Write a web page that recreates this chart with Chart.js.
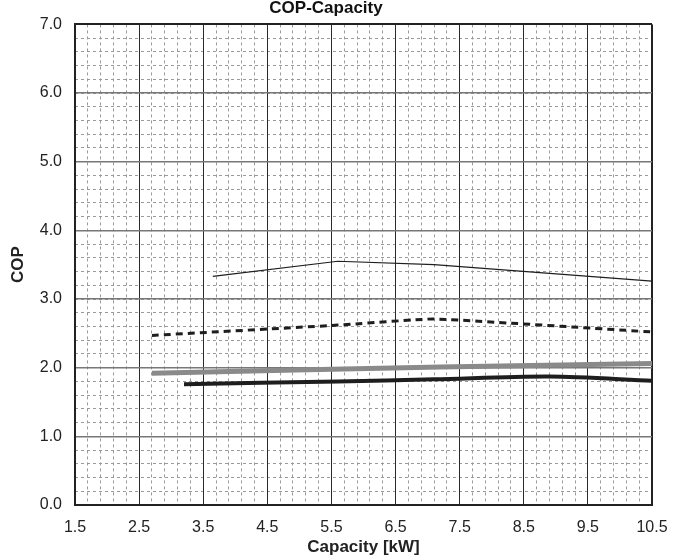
<!DOCTYPE html>
<html>
<head>
<meta charset="utf-8">
<script src="https://cdn.jsdelivr.net/npm/chart.js@4"></script>
<style>
  html, body { margin: 0; padding: 0; background: #fff; }
</style>
</head>
<body>
<canvas id="copChart" width="686" height="560"></canvas>
<script>
// valori
const capThin = [3.65, 5.6, 7.1, 10.5];
const copThin = [3.33, 3.55, 3.50, 3.26];
const capDash = [2.7, 5.6, 7.1, 10.5];
const copDash = [2.47, 2.62, 2.71, 2.52];
const capGray = [2.7, 7.2, 10.5];
const copGray = [1.92, 2.01, 2.06];
const capBold = [3.2, 5.6, 7.1, 8.9, 10.5];
const copBold = [1.76, 1.80, 1.83, 1.87, 1.81];

const xMin = 1.5, xMax = 10.5;
const yMin = 0, yMax = 7;

function pts(xs, ys) {
    return xs.map((x, i) => ({ x: x, y: ys[i] }));
}

const font = 'Arial, "Liberation Sans", sans-serif';

const ctx = document.getElementById('copChart').getContext('2d');
const copChart = new Chart(ctx, {
    type: 'line',
    data: {
        datasets: [{
            data: pts(capGray, copGray),
            borderColor: '#8a8a8a',
            borderWidth: 5,
            pointRadius: 0,
            tension: 0.3,
            fill: false
        },
        {
            data: pts(capBold, copBold),
            borderColor: '#1e1e1e',
            borderWidth: 4,
            pointRadius: 0,
            tension: 0.3,
            fill: false
        },
        {
            data: pts(capDash, copDash),
            borderColor: '#1e1e1e',
            borderWidth: 3,
            borderDash: [7, 5],
            pointRadius: 0,
            tension: 0.1,
            fill: false
        },
        {
            data: pts(capThin, copThin),
            borderColor: '#1e1e1e',
            borderWidth: 1.2,
            pointRadius: 0,
            tension: 0,
            fill: false
        }]
    },
    options: {
        responsive: false,
        animation: false,
        layout: { padding: { right: 34, top: 0, left: 0, bottom: 0 } },
        plugins: {
            legend: { display: false },
            tooltip: { enabled: false },
            title: {
                display: true,
                text: 'COP-Capacity',
                color: '#111',
                font: { family: font, size: 17, weight: 'bold' },
                padding: { top: -2, bottom: 6 }
            }
        },
        scales: {
            // griglia secondaria (tratteggiata)
            xMinor: {
                type: 'linear',
                position: 'bottom',
                min: xMin,
                max: xMax,
                ticks: { display: false, stepSize: 0.2, autoSkip: false },
                grid: { color: '#9a9a9a', lineWidth: 1, drawTicks: false },
                border: { display: false, dash: [3, 3] },
                afterFit: (s) => { s.height = 0; }
            },
            yMinor: {
                type: 'linear',
                position: 'left',
                min: yMin,
                max: yMax,
                ticks: { display: false, stepSize: 0.2, autoSkip: false },
                grid: { color: '#9a9a9a', lineWidth: 1, drawTicks: false },
                border: { display: false, dash: [3, 3] },
                afterFit: (s) => { s.width = 0; }
            },
            x: {
                type: 'linear',
                position: 'bottom',
                min: xMin,
                max: xMax,
                ticks: {
                    stepSize: 1,
                    autoSkip: false,
                    maxRotation: 0,
                    color: '#222',
                    padding: 13,
                    font: { family: font, size: 16 },
                    callback: (v) => v.toFixed(1)
                },
                grid: {
                    drawTicks: false,
                    color: (c) => (c.tick && (c.tick.value === xMin || c.tick.value === xMax)) ? '#222' : '#2a2a2a',
                    lineWidth: (c) => (c.tick && (c.tick.value === xMin || c.tick.value === xMax)) ? 2 : 1
                },
                border: { display: true, color: '#222', width: 2 },
                title: {
                    display: true,
                    text: 'Capacity [kW]',
                    color: '#222',
                    font: { family: font, size: 17, weight: 'bold' },
                    padding: { top: 0, bottom: 2 }
                },
                afterFit: (s) => { s.height = 55; }
            },
            y: {
                type: 'linear',
                position: 'left',
                min: yMin,
                max: yMax,
                ticks: {
                    stepSize: 1,
                    autoSkip: false,
                    color: '#222',
                    padding: 13,
                    font: { family: font, size: 16 },
                    callback: (v) => v.toFixed(1)
                },
                grid: {
                    drawTicks: false,
                    color: (c) => (c.tick && (c.tick.value === yMin || c.tick.value === yMax)) ? '#222' : '#777',
                    lineWidth: (c) => (c.tick && (c.tick.value === yMin || c.tick.value === yMax)) ? 2 : 1.5
                },
                border: { display: true, color: '#222', width: 2 },
                title: {
                    display: true,
                    text: 'COP',
                    color: '#222',
                    font: { family: font, size: 17, weight: 'bold' },
                    padding: { top: 8, bottom: 0 }
                },
                afterFit: (s) => { s.width = 75; }
            }
        }
    }
});
</script>
</body>
</html>
